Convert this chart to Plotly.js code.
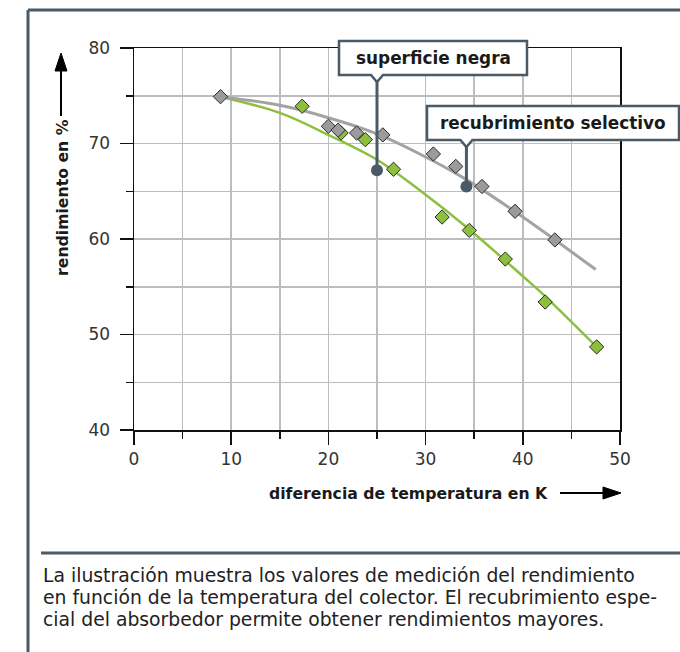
<!DOCTYPE html>
<html>
<head>
<meta charset="utf-8">
<script src="https://cdn.plot.ly/plotly-3.0.1.min.js"></script>
<style>
html,body{margin:0;padding:0;background:#fff;}
#chart{width:680px;height:652px;}
</style>
</head>
<body>
<div id="chart"></div>
<script>
// ---- data ----
const xSelectivo = [8.9, 20.0, 21.0, 22.9, 25.6, 30.8, 33.1, 35.8, 39.2, 43.3];
const ySelectivo = [74.9, 71.8, 71.4, 71.1, 70.9, 68.9, 67.6, 65.5, 62.9, 59.9];
const xNegra = [17.3, 21.3, 23.8, 26.7, 31.7, 34.5, 38.2, 42.3, 47.6];
const yNegra = [73.9, 71.1, 70.4, 67.3, 62.3, 60.9, 57.9, 53.4, 48.7];
const curveSelectivoX = [8.9, 15, 20, 25, 29.4, 33.9, 40, 47.5];
const curveSelectivoY = [74.9, 74.0, 72.7, 71.0, 68.9, 66.4, 62.3, 56.8];
const curveNegraX = [8.9, 15, 20, 25, 29.4, 34.5, 40, 42.3, 47.6];
const curveNegraY = [74.9, 73.2, 70.9, 68.3, 65.1, 61.0, 56.1, 54.0, 48.7];
const calloutX = [25.0, 34.2];
const calloutY = [67.2, 65.5];
const calloutLabels = ['superficie negra', 'recubrimiento selectivo'];
const xTickVals = [0, 10, 20, 30, 40, 50];
const yTickVals = [40, 50, 60, 70, 80];
const xTitle = 'diferencia de temperatura en K';
const yTitle = 'rendimiento en %';
const captionLines = [
  'La ilustración muestra los valores de medición del rendimiento',
  'en función de la temperatura del colector. El recubrimiento espe-',
  'cial del absorbedor permite obtener rendimientos mayores.'
];

// ---- layout geometry (pixels) ----
const W = 680, H = 652;
const L = 134, R = 620, T = 48, B = 430;
const PW = R - L, PH = B - T;
const xRange = [0, 50], yRange = [40, 80];
const px = v => (v - L) / PW;          // pixel x -> paper
const py = v => (B - v) / PH;          // pixel y -> paper
const dataYfromPx = v => yRange[1] - (v - T) / PH * (yRange[1] - yRange[0]);
const pxFromDataX = x => L + (x - xRange[0]) / (xRange[1] - xRange[0]) * PW;

const slate = '#4a5a66';
const gridC = '#bdbdbd';
const axisC = '#111111';
const tickFont = {family: 'DejaVu Sans', size: 17, color: '#333333'};
const titleFont = {family: 'DejaVu Sans', size: 15.7, color: '#1a1a1a', weight: 'bold'};
const calloutFont = {family: 'DejaVu Sans', size: 16.9, color: '#1a1a1a', weight: 'bold'};

const traces = [
  {x: curveNegraX, y: curveNegraY, mode: 'lines', line: {color: '#8dbf3f', width: 2.5, shape: 'spline', smoothing: 1}},
  {x: curveSelectivoX, y: curveSelectivoY, mode: 'lines', line: {color: '#a3a3a3', width: 3, shape: 'spline', smoothing: 1}},
  {x: xNegra, y: yNegra, mode: 'markers', marker: {symbol: 'diamond', size: 11, color: '#8dbf3f', line: {color: '#2b2b2b', width: 1}}},
  {x: xSelectivo, y: ySelectivo, mode: 'markers', marker: {symbol: 'diamond', size: 11, color: '#9b9b9b', line: {color: '#2b2b2b', width: 1}}},
  {x: calloutX, y: calloutY, mode: 'markers', marker: {symbol: 'circle', size: 12, color: slate}}
];

// callout boxes (pixel positions)
const boxes = [
  {x0: 339, x1: 527, y0: 41, y1: 75},
  {x0: 427, x1: 679, y0: 106, y1: 140}
];

const shapes = [];
const annotations = [];

// outer frame
shapes.push({type: 'line', xref: 'paper', yref: 'paper', x0: px(28), x1: px(W + 5), y0: py(10), y1: py(10), line: {color: slate, width: 3}});
shapes.push({type: 'line', xref: 'paper', yref: 'paper', x0: px(28), x1: px(28), y0: py(10), y1: py(H + 5), line: {color: slate, width: 3}});
// caption separator
shapes.push({type: 'line', xref: 'paper', yref: 'paper', x0: px(41), x1: px(W + 5), y0: py(553), y1: py(553), line: {color: slate, width: 3}});

// axis arrows
shapes.push({type: 'line', xref: 'paper', yref: 'paper', x0: px(61), x1: px(61), y0: py(116), y1: py(68), line: {color: '#000', width: 2}});
shapes.push({type: 'path', xref: 'paper', yref: 'paper',
  path: `M ${px(55)} ${py(71)} L ${px(61)} ${py(53)} L ${px(67)} ${py(71)} Z`, fillcolor: '#000', line: {color: '#000', width: 1}});
shapes.push({type: 'line', xref: 'paper', yref: 'paper', x0: px(560), x1: px(606), y0: py(493), y1: py(493), line: {color: '#000', width: 2}});
shapes.push({type: 'path', xref: 'paper', yref: 'paper',
  path: `M ${px(603)} ${py(487)} L ${px(621)} ${py(493)} L ${px(603)} ${py(499)} Z`, fillcolor: '#000', line: {color: '#000', width: 1}});

// callouts
boxes.forEach((b, i) => {
  const nx = pxFromDataX(calloutX[i]);
  shapes.push({type: 'line', xref: 'x', yref: 'y', layer: 'above',
    x0: calloutX[i], x1: calloutX[i], y0: calloutY[i], y1: dataYfromPx(b.y1 + 6),
    line: {color: slate, width: 3}});
  shapes.push({type: 'path', xref: 'paper', yref: 'paper', layer: 'above',
    path: `M ${px(b.x0)} ${py(b.y0)} L ${px(b.x1)} ${py(b.y0)} L ${px(b.x1)} ${py(b.y1)} L ${px(nx + 6)} ${py(b.y1)} L ${px(nx)} ${py(b.y1 + 7)} L ${px(nx - 6)} ${py(b.y1)} L ${px(b.x0)} ${py(b.y1)} Z`,
    fillcolor: '#ffffff', line: {color: slate, width: 2.5}});
  annotations.push({xref: 'paper', yref: 'paper', x: px((b.x0 + b.x1) / 2), y: py((b.y0 + b.y1) / 2),
    xanchor: 'center', yanchor: 'middle', showarrow: false, text: calloutLabels[i], font: calloutFont});
});

// axis titles
annotations.push({xref: 'paper', yref: 'paper', x: px(408), y: py(493), xanchor: 'center', yanchor: 'middle',
  showarrow: false, text: xTitle, font: titleFont});
annotations.push({xref: 'paper', yref: 'paper', x: px(62), y: py(198), xanchor: 'center', yanchor: 'middle',
  showarrow: false, text: yTitle, textangle: -90, font: titleFont});

// caption
const capY = [575, 597, 619];
captionLines.forEach((t, i) => {
  annotations.push({xref: 'paper', yref: 'paper', x: px(41), y: py(capY[i]), xanchor: 'left', yanchor: 'middle',
    showarrow: false, text: t, font: {family: 'DejaVu Sans', size: 18.8, color: '#222222'}});
});

const axisCommon = {
  ticks: 'outside', ticklen: 13, tickwidth: 1.5, tickcolor: axisC,
  showline: true, linecolor: axisC, linewidth: 1.5, mirror: true,
  showgrid: true, gridcolor: gridC, gridwidth: 1.5, zeroline: false,
  tickfont: tickFont, fixedrange: true,
  minor: {ticks: 'outside', ticklen: 7, tickwidth: 1.5, tickcolor: axisC, showgrid: true, gridcolor: gridC, gridwidth: 1.5}
};

const layout = {
  width: W, height: H,
  margin: {l: L, r: W - R, t: T, b: H - B, pad: 0},
  paper_bgcolor: '#ffffff', plot_bgcolor: '#ffffff',
  showlegend: false, hovermode: false,
  xaxis: Object.assign({}, axisCommon, {range: xRange, tickmode: 'array', tickvals: xTickVals,
    minor: Object.assign({}, axisCommon.minor, {tickmode: 'linear', tick0: 0, dtick: 5})}),
  yaxis: Object.assign({}, axisCommon, {range: yRange, tickmode: 'array', tickvals: yTickVals, ticklabelstandoff: 6,
    minor: Object.assign({}, axisCommon.minor, {tickmode: 'linear', tick0: 40, dtick: 5})}),
  shapes: shapes,
  annotations: annotations
};

Plotly.newPlot('chart', traces, layout, {staticPlot: true, displayModeBar: false});
</script>
</body>
</html>
